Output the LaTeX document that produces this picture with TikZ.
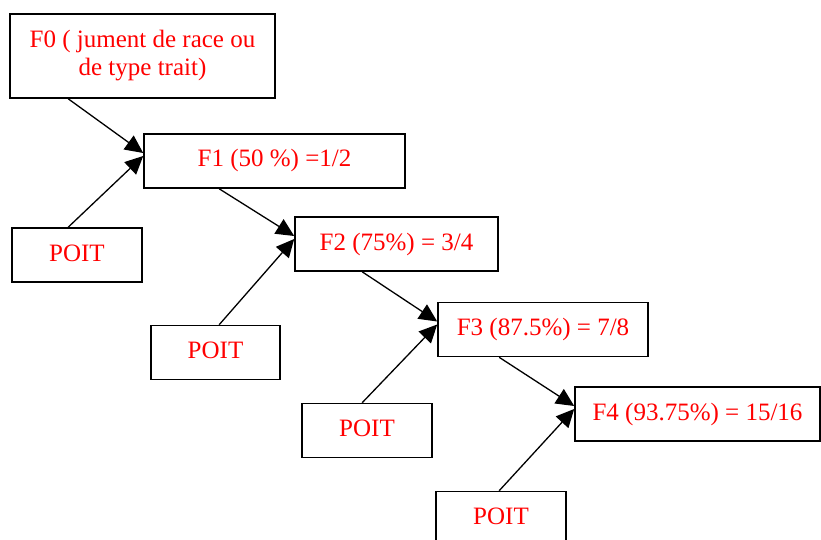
\documentclass[tikz,border=0pt]{standalone}
\usepackage{fontspec}
\setmainfont{Liberation Serif}
\usepackage{xcolor}
\usetikzlibrary{shapes,arrows.meta,positioning}

\begin{document}
\begin{tikzpicture}[x=1pt,y=-1pt,
    box/.style={draw, line width=1.6pt, text=red, inner sep=0pt,
        font=\fontsize{25}{28}\selectfont, text height=18pt, text depth=6pt,
        minimum height=54},
    fleche/.style={line width=1.3pt, -{Triangle[length=18pt,width=17pt]}}]
    \clip (0,0) rectangle (821,540);

    % generations
    \node[box, minimum width=265, minimum height=84, text height=, text depth=, align=center] (F0) at (142.5,56)
        {F0 ( jument de race ou\\de type trait)};
    \node[box, minimum width=261] (F1) at (274.5,161) {F1 (50 \%) =1/2};
    \node[box, minimum width=203] (F2) at (396.5,244) {F2 (75\%) = 3/4};
    \node[box, minimum width=210] (F3) at (543,329.5) {F3 (87.5\%) = 7/8};
    \node[box, minimum width=245] (F4) at (697.5,414) {F4 (93.75\%) = 15/16};

    % etalons
    \node[box, minimum width=130] (P1) at (77,255) {POIT};
    \node[box, minimum width=129] (P2) at (215.5,352.5) {POIT};
    \node[box, minimum width=130] (P3) at (367,430.5) {POIT};
    \node[box, minimum width=130] (P4) at (501,518.5) {POIT};

    % croisements
    \foreach \a/\b in {F0/F1,F1/F2,F2/F3,F3/F4} {
        \path (\b.west) ++(-75,0) coordinate (s\b);
        \draw[fleche] (s\b |- \a.south) -- ([yshift=8pt]\b.west);
    }
    \foreach \p/\b in {P1/F1,P2/F2,P3/F3,P4/F4}
        \draw[fleche] (s\b |- \p.north) -- ([yshift=5pt]\b.west);
\end{tikzpicture}
\end{document}
